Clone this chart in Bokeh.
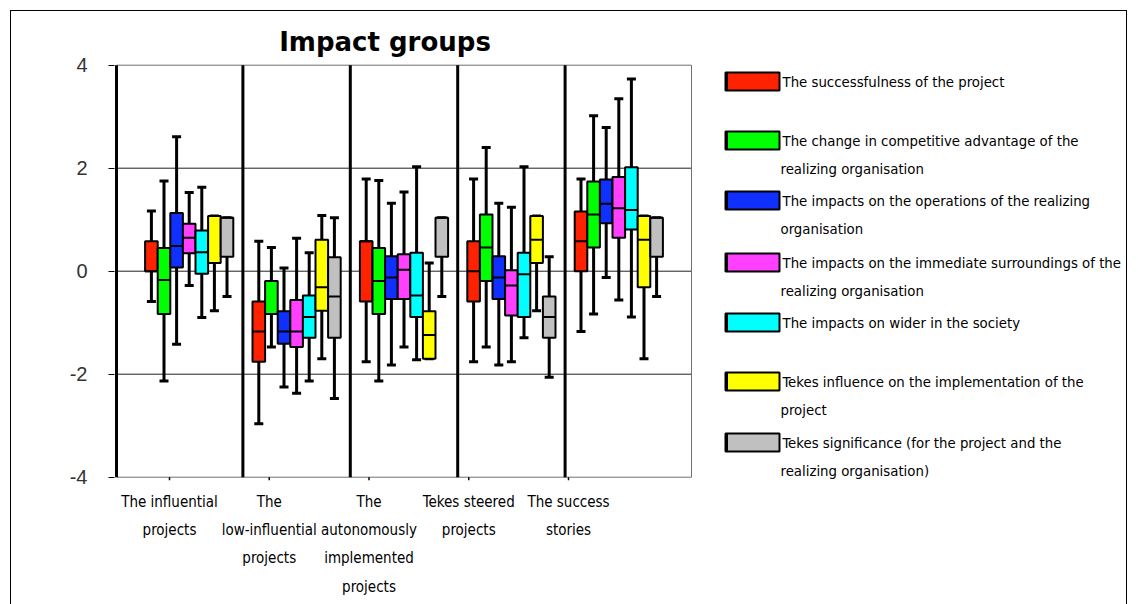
from bokeh.plotting import figure
from bokeh.models import Range1d, FixedTicker, ColumnDataSource
from bokeh.embed import file_html
from bokeh.resources import INLINE
from bokeh.core.properties import value

# ---------------- data ----------------
title_text = "Impact groups"

groups = [
    "The influential\nprojects",
    "The\nlow-influential\nprojects",
    "The\nautonomously\nimplemented\nprojects",
    "Tekes steered\nprojects",
    "The success\nstories",
]

series_labels = [
    ["The successfulness of the project"],
    ["The change in competitive advantage of the", "realizing organisation"],
    ["The impacts on the operations of the realizing", "organisation"],
    ["The impacts on the immediate surroundings of the", "realizing organisation"],
    ["The impacts on wider in the society"],
    ["Tekes  influence on the implementation of the", "project"],
    ["Tekes significance (for the project and the", "realizing organisation)"],
]

colors = ["#ff2200", "#00ff00", "#1030ff", "#ff40ff", "#00ffff", "#ffff00", "#c0c0c0"]

# one row per series, one value per group
whisker_low = [
    [-0.59, -2.96, -1.76, -1.76, -1.17],
    [-2.13, -1.47, -2.13, -1.47, -0.83],
    [-1.42, -2.25, -1.82, -1.82, -0.12],
    [-0.28, -2.37, -1.47, -1.76, -0.56],
    [-0.90, -2.13, -1.72, -1.29, -0.89],
    [-0.77, -1.70, -1.70, -0.77, -1.70],
    [-0.49, -2.47, -0.49, -2.06, -0.49],
]
box_low = [
    [0.00, -1.76, -0.59, -0.59, 0.00],
    [-0.83, -0.83, -0.83, -0.19, 0.46],
    [0.07, -1.41, -0.54, -0.54, 0.93],
    [0.35, -1.47, -0.54, -0.86, 0.65],
    [-0.05, -1.29, -0.89, -0.89, 0.81],
    [0.16, -0.77, -1.70, 0.16, -0.31],
    [0.28, -1.29, 0.28, -1.29, 0.28],
]
median = [
    [0.00, -1.17, 0.58, 0.00, 0.58],
    [-0.17, -0.83, -0.19, 0.46, 1.10],
    [0.49, -1.17, -0.12, -0.12, 1.31],
    [0.65, -1.17, 0.03, -0.28, 1.22],
    [0.37, -0.89, -0.47, -0.06, 1.19],
    [1.07, -0.31, -1.24, 0.61, 0.61],
    [1.04, -0.49, 1.04, -0.89, 1.04],
]
box_high = [
    [0.58, -0.59, 0.58, 0.58, 1.16],
    [0.45, -0.19, 0.45, 1.10, 1.74],
    [1.13, -0.78, 0.29, 0.29, 1.78],
    [0.92, -0.56, 0.33, 0.02, 1.83],
    [0.79, -0.47, 0.36, 0.36, 2.02],
    [1.07, 0.61, -0.78, 1.07, 1.07],
    [1.04, 0.27, 1.04, -0.49, 1.04],
]
whisker_high = [
    [1.17, 0.58, 1.79, 1.79, 1.79],
    [1.75, 0.46, 1.76, 2.40, 3.02],
    [2.61, 0.06, 1.32, 1.32, 2.79],
    [1.53, 0.64, 1.54, 1.24, 3.35],
    [1.63, 0.36, 2.03, 2.03, 3.73],
    [1.07, 1.08, 0.16, 1.07, 1.07],
    [1.04, 1.04, 1.04, 0.28, 1.04],
]

y_ticks = [-4, -2, 0, 2, 4]
y_tick_labels = ["-4", "-2", "0", "2", "4"]
grid_values = [-2, 0, 2]

# ---------------- layout (page pixels) ----------------
ORIGIN = 11              # canvas top-left on the page (absolute positioning)
W, H = 1117, 595
FRAME_LEFT, FRAME_RIGHT = 114, 1127
FRAME_TOP, FRAME_BOTTOM = 15, 486
PLOT_TOP, PLOT_BOTTOM = 64.7, 476.7
GROUP0_LEFT = 135.0
GROUP_W = 107.4
SIDE_PAD = 19.0
SLOT_PX = 12.6
CAP_PX = 9.0
TICK0_PX, TICK_STEP_PX = 169.0, 99.75
TEXT_FONT = "DejaVu Sans Condensed, Liberation Sans"

n_groups = len(groups)
n_series = len(colors)
y_min, y_max = y_ticks[0], y_ticks[-1]
unit_y = (PLOT_BOTTOM - PLOT_TOP) / (y_max - y_min)
y_start = y_min - (FRAME_BOTTOM - PLOT_BOTTOM) / unit_y
y_end = y_max + (PLOT_TOP - FRAME_TOP) / unit_y
x_start = -0.5 - (GROUP0_LEFT - FRAME_LEFT) / GROUP_W
x_end = x_start + (FRAME_RIGHT - FRAME_LEFT) / GROUP_W
plot_left = -0.5 - SIDE_PAD / GROUP_W
plot_right = n_groups - 0.5 + SIDE_PAD / GROUP_W
slot = SLOT_PX / GROUP_W
cap = CAP_PX / GROUP_W / 2

p = figure(
    width=W, height=H, output_backend="svg", toolbar_location=None, title=None,
    x_range=Range1d(x_start, x_end), y_range=Range1d(y_start, y_end),
    min_border_left=FRAME_LEFT - ORIGIN,
    min_border_right=W - (FRAME_RIGHT - ORIGIN),
    min_border_top=FRAME_TOP - ORIGIN,
    min_border_bottom=H - (FRAME_BOTTOM - ORIGIN),
)
p.extra_x_ranges = {"px": Range1d(FRAME_LEFT, FRAME_RIGHT)}
p.extra_y_ranges = {"px": Range1d(FRAME_BOTTOM, FRAME_TOP)}
p.xgrid.visible = False
p.ygrid.visible = False
p.outline_line_color = None
p.background_fill_color = "white"
p.border_fill_color = "white"
p.styles = {"position": "absolute", "left": f"{ORIGIN - 1}px", "top": f"{ORIGIN - 1}px",
            "border": "1px solid black"}

# y axis
p.yaxis.ticker = FixedTicker(ticks=y_ticks)
p.yaxis.major_label_overrides = {t: s for t, s in zip(y_ticks, y_tick_labels)}
p.yaxis.axis_line_color = None
p.yaxis.major_tick_out = 6
p.yaxis.major_tick_in = 0
p.yaxis.major_tick_line_color = "black"
p.yaxis.minor_tick_line_color = None
p.yaxis.major_label_standoff = 21
p.yaxis.major_label_text_font = "Liberation Sans"
p.yaxis.major_label_text_font_size = "20px"
p.yaxis.major_label_text_color = "#333333"

# x axis (category labels)
tick_pos = [round(-0.5 + (TICK0_PX + i * TICK_STEP_PX - GROUP0_LEFT) / GROUP_W, 4) for i in range(n_groups)]
p.xaxis.ticker = FixedTicker(ticks=tick_pos)
p.xaxis.major_label_overrides = {t: g for t, g in zip(tick_pos, groups)}
p.xaxis.axis_line_color = None
p.xaxis.major_tick_line_color = None
p.xaxis.minor_tick_line_color = None
p.xaxis.major_label_standoff = 0
p.xaxis.major_label_text_font = TEXT_FONT
p.xaxis.major_label_text_font_size = "15px"
p.xaxis.major_label_text_line_height = 1.58
p.xaxis.major_label_text_color = "black"

# frame lines
p.segment(x0=[plot_left] * len(grid_values), x1=[plot_right] * len(grid_values),
          y0=grid_values, y1=grid_values, line_color="#202020", line_width=1)
p.segment(x0=[plot_left, plot_left], x1=[plot_right, plot_right], y0=[y_min, y_max], y1=[y_min, y_max],
          line_color="#707070", line_width=1)
p.segment(x0=tick_pos, x1=tick_pos, y0=[y_min] * n_groups, y1=[y_min - 3 / unit_y] * n_groups,
          line_color="black", line_width=1.5)
dividers = [plot_left] + [g + 0.5 for g in range(n_groups - 1)]
p.segment(x0=dividers, x1=dividers, y0=[y_min] * len(dividers), y1=[y_max] * len(dividers),
          line_color="black", line_width=3)
p.segment(x0=[plot_right], x1=[plot_right], y0=[y_min], y1=[y_max], line_color="#707070", line_width=1)

# box plots
rows = {k: [] for k in ["x", "left", "right", "wl", "ql", "md", "qh", "wh", "color"]}
for s in range(n_series):
    for g in range(n_groups):
        xc = g + (s - (n_series - 1) / 2) * slot
        rows["x"].append(xc)
        rows["left"].append(xc - slot / 2)
        rows["right"].append(xc + slot / 2)
        rows["wl"].append(whisker_low[s][g])
        rows["ql"].append(box_low[s][g])
        rows["md"].append(median[s][g])
        rows["qh"].append(box_high[s][g])
        rows["wh"].append(whisker_high[s][g])
        rows["color"].append(colors[s])
rows["cl"] = [x - cap for x in rows["x"]]
rows["cr"] = [x + cap for x in rows["x"]]
src = ColumnDataSource(rows)

p.segment(x0="x", x1="x", y0="wl", y1="wh", source=src, line_color="black", line_width=3)
p.segment(x0="cl", x1="cr", y0="wl", y1="wl", source=src, line_color="black", line_width=3)
p.segment(x0="cl", x1="cr", y0="wh", y1="wh", source=src, line_color="black", line_width=3)
p.quad(left="left", right="right", bottom="ql", top="qh", source=src,
       fill_color="color", line_color="black", line_width=2)
p.segment(x0="left", x1="right", y0="md", y1="md", source=src, line_color="black", line_width=2)

# title
p.text(x=[384.5], y=[41], text=[title_text], x_range_name="px", y_range_name="px",
       text_font=value("DejaVu Sans"), text_font_style="bold", text_font_size="26px",
       text_align="center", text_baseline="alphabetic", text_color="black")

# legend
LEG_X0, LEG_X1, LEG_TEXT_X = 725, 779, 782
LEG_Y = [81, 140, 200, 262, 322, 381, 442]
LEG_H, LINE_H = 18, 28
p.quad(left=[LEG_X0] * n_series, right=[LEG_X1] * n_series,
       top=[y - LEG_H / 2 for y in LEG_Y], bottom=[y + LEG_H / 2 for y in LEG_Y],
       fill_color=colors, line_color="black", line_width=2,
       x_range_name="px", y_range_name="px")
p.segment(x0=[LEG_X0 + 1] * n_series, x1=[LEG_X0 + 1] * n_series,
          y0=[y - LEG_H / 2 for y in LEG_Y], y1=[y + LEG_H / 2 for y in LEG_Y],
          line_color="black", line_width=3, x_range_name="px", y_range_name="px")
tx, ty, tt = [], [], []
for s, lines in enumerate(series_labels):
    for k, line in enumerate(lines):
        tx.append(LEG_TEXT_X - (2 if k else 0))
        ty.append(LEG_Y[s] + k * LINE_H)
        tt.append(line)
p.text(x=tx, y=ty, text=tt, x_range_name="px", y_range_name="px",
       text_font=value(TEXT_FONT), text_font_size="14.8px",
       text_align="left", text_baseline="middle", text_color="black")

open("out.html", "w").write(file_html(p, INLINE))
